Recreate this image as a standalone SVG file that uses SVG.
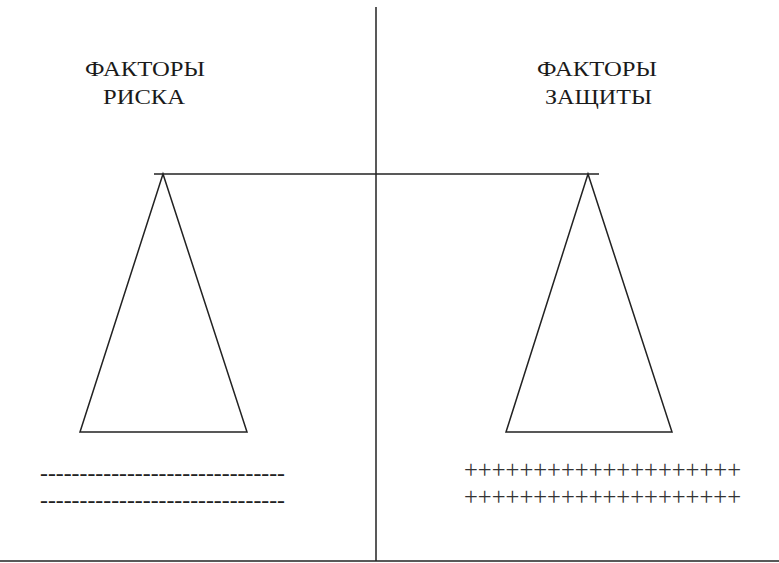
<svg xmlns="http://www.w3.org/2000/svg" width="779" height="563" viewBox="0 0 779 563">
<style>
.ln{stroke:#222;stroke-width:1.5;fill:none}
.t{font-family:"Liberation Serif","Times New Roman",serif;font-size:21px;fill:#1a1a1a}
.m{font-family:"Liberation Serif","Times New Roman",serif;font-size:20px;font-weight:bold;fill:#222}
.p{font-family:"Liberation Serif","Times New Roman",serif;font-size:25px;fill:#333}
</style>
<rect width="779" height="563" fill="#fff"/>
<g id="axes">
<line class="ln" x1="376" y1="7" x2="376" y2="561"/>
<line class="ln" x1="0" y1="561" x2="779" y2="561"/>
<line class="ln" x1="154" y1="174" x2="599" y2="174"/>
</g>
<g id="left-pan">
<polygon class="ln" points="163,174 80,432 247,432"/>
</g>
<g id="right-pan">
<polygon class="ln" points="588,174 506,432 672,432"/>
</g>
<g id="risk-label">
<text class="t" x="85" y="76" textLength="120" lengthAdjust="spacingAndGlyphs">ФАКТОРЫ</text>
<text class="t" x="103" y="104" textLength="82" lengthAdjust="spacingAndGlyphs">РИСКА</text>
</g>
<g id="protect-label">
<text class="t" x="537" y="76" textLength="120" lengthAdjust="spacingAndGlyphs">ФАКТОРЫ</text>
<text class="t" x="545" y="104" textLength="107" lengthAdjust="spacingAndGlyphs">ЗАЩИТЫ</text>
</g>
<g id="minus">
<text class="m" x="40" y="480" textLength="245" lengthAdjust="spacingAndGlyphs">-------------------------------</text>
<text class="m" x="40" y="507" textLength="245" lengthAdjust="spacingAndGlyphs">-------------------------------</text>
</g>
<g id="plus">
<text class="p" x="464" y="478" textLength="277" lengthAdjust="spacingAndGlyphs">++++++++++++++++++++</text>
<text class="p" x="464" y="505" textLength="277" lengthAdjust="spacingAndGlyphs">++++++++++++++++++++</text>
</g>
</svg>
